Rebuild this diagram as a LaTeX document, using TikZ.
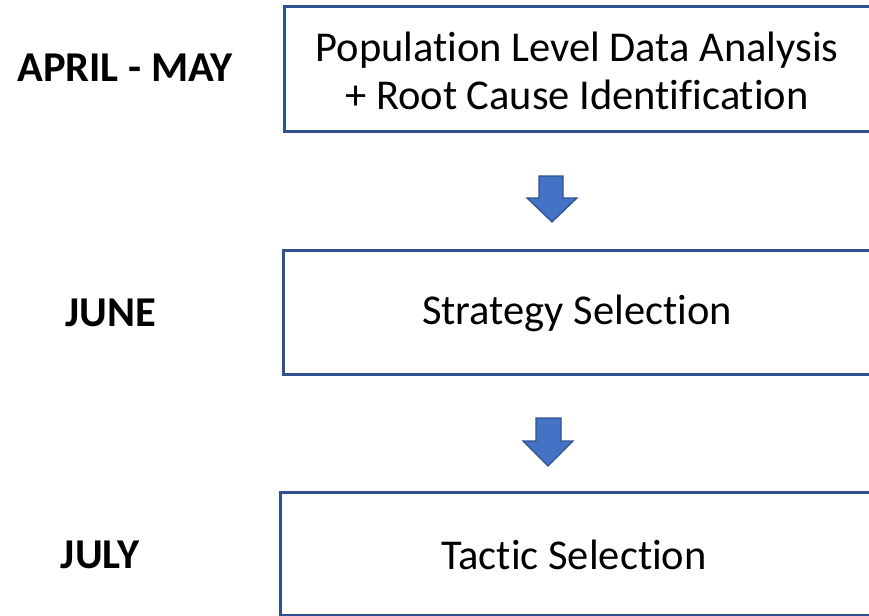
\documentclass[tikz,border=0pt]{standalone}
\usepackage{fontspec}
\setmainfont{Carlito}[Ligatures=NoCommon]
\definecolor{boxline}{HTML}{2F528F}
\definecolor{arrowfill}{HTML}{4472C4}
\begin{document}
\begin{tikzpicture}[x=1pt,y=-1pt,
  stage/.style={draw=boxline,line width=2.6pt,fill=white,inner sep=0pt},
  boxtext/.style={font=\fontsize{42.5}{48}\selectfont,align=center},
  when/.style={font=\fontsize{42.5}{48}\selectfont\bfseries},
  blockarrow/.style={fill=arrowfill,draw=boxline,line width=1.2pt,line join=miter}]
\useasboundingbox (0,0) rectangle (869,615);
\clip (0,0) rectangle (869,615);
% boxes
\node[stage,minimum width=600pt,minimum height=125pt,anchor=north west] (b1) at (283,5) {};
\node[stage,minimum width=600pt,minimum height=124pt,anchor=north west] (b2) at (282,249) {};
\node[stage,minimum width=600pt,minimum height=123pt,anchor=north west] (b3) at (279,491) {};
% box texts
\node[boxtext] (t1) at (577,71) {Population Level Data Analysis\\+ Root Cause Identification};
\node[boxtext] (t2) at (577,313) {Strategy Selection};
\node[boxtext] (t3) at (574,555) {Tactic Selection};
% labels
\node[when] (l1) at (125,68) {APRIL - MAY};
\node[when] (l2) at (111,313) {JUNE};
\node[when] (l3) at (100,555) {JULY};
% block arrows
\draw[blockarrow] (539,176) -- (563,176) -- (563,198) -- (577,198) -- (552,222) -- (527,198) -- (539,198) -- cycle;
\draw[blockarrow] (536,418) -- (561,418) -- (561,441) -- (573,441) -- (548,466) -- (523,441) -- (536,441) -- cycle;
\end{tikzpicture}
\end{document}
